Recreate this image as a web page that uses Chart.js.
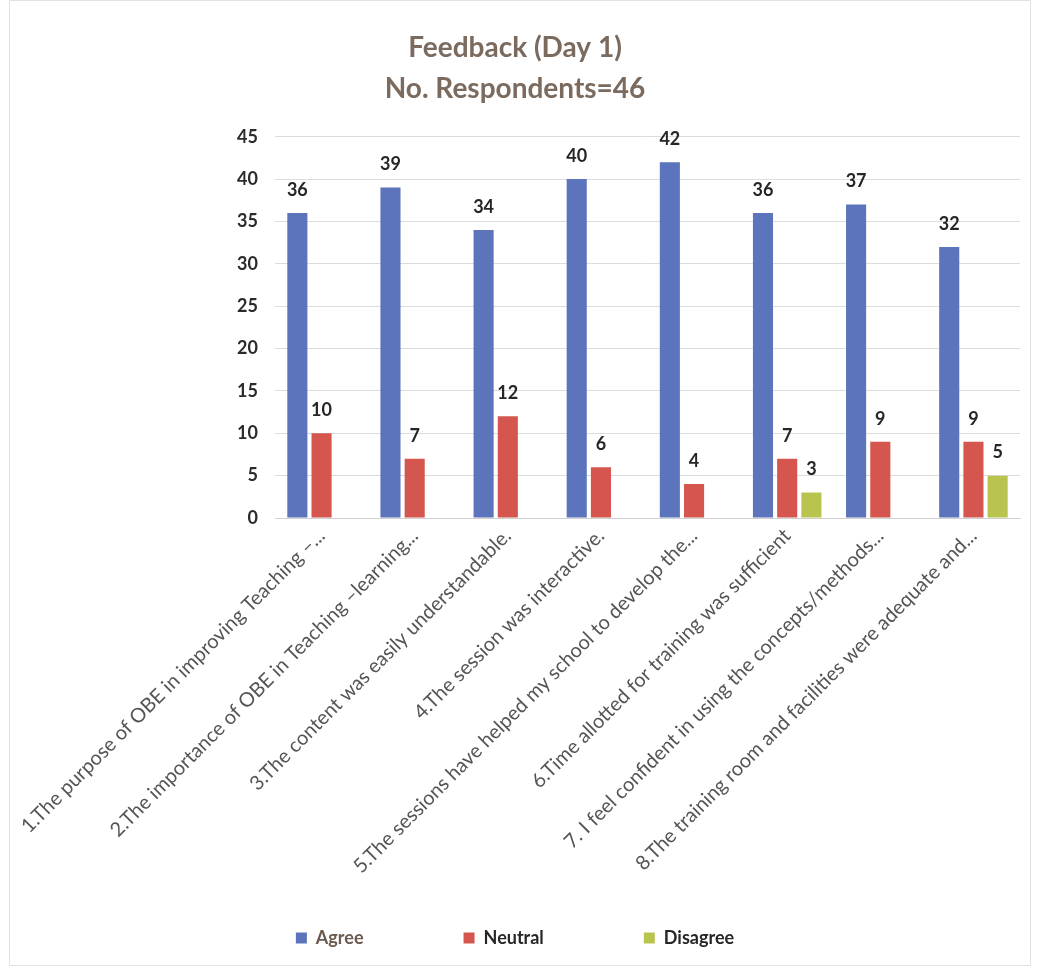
<!DOCTYPE html>
<html>
<head>
<meta charset="utf-8">
<script src="https://cdn.jsdelivr.net/npm/chart.js@4.4.0/dist/chart.umd.min.js"></script>
<style>
  html, body { margin: 0; padding: 0; background: #ffffff; overflow: hidden; }
  canvas { display: block; }
</style>
</head>
<body>
<canvas id="c" width="1040" height="971"></canvas>
<script>
const categories = [
  "1.The purpose of OBE in improving Teaching \u2013...",
  "2.The importance of OBE in Teaching \u2013learning...",
  "3.The content was easily understandable.",
  "4.The session was interactive.",
  "5.The sessions have helped my school to develop the...",
  "6.Time allotted for training was sufficient",
  "7. I feel confident in using the concepts/methods...",
  "8.The training room and facilities were adequate and..."
];
const agree    = [36, 39, 34, 40, 42, 36, 37, 32];
const neutral  = [10, 7, 12, 6, 4, 7, 9, 9];
const disagree = [null, null, null, null, null, 3, null, 5];
const yTicks = [0, 5, 10, 15, 20, 25, 30, 35, 40, 45];
const titleLines = ["Feedback (Day 1)", "No. Respondents=46"];

const frame = {
  id: 'frame',
  beforeDraw(chart) {
    const ctx = chart.ctx;
    ctx.save();
    ctx.fillStyle = '#ffffff';
    ctx.fillRect(0, 0, chart.width, chart.height);
    ctx.strokeStyle = '#e2e2e2';
    ctx.lineWidth = 1;
    ctx.strokeRect(9.5, 0.5, chart.width - 19, chart.height - 6);
    ctx.restore();
  }
};

const valueLabels = {
  id: 'valueLabels',
  afterDatasetsDraw(chart) {
    const ctx = chart.ctx;
    ctx.save();
    ctx.font = 'bold 18px Lato, "Open Sans", sans-serif';
    ctx.fillStyle = '#262626';
    ctx.textAlign = 'center';
    ctx.textBaseline = 'bottom';
    chart.data.datasets.forEach((ds, i) => {
      const meta = chart.getDatasetMeta(i);
      meta.data.forEach((el, j) => {
        const v = ds.data[j];
        if (v === null || v === undefined) return;
        ctx.fillText(String(v), el.x, el.y - 14);
      });
    });
    ctx.restore();
  }
};

new Chart(document.getElementById('c'), {
  type: 'bar',
  data: {
    labels: categories,
    datasets: [
      { label: 'Agree', data: agree, backgroundColor: '#5b74bb' },
      { label: 'Neutral', data: neutral, backgroundColor: '#d4564f' },
      { label: 'Disagree', data: disagree, backgroundColor: '#b9c44f' }
    ]
  },
  options: {
    responsive: false,
    animation: false,
    devicePixelRatio: 1,
    layout: { padding: { left: 10, right: 20, top: 28, bottom: 14 } },
    datasets: { bar: { barPercentage: 0.83, categoryPercentage: 0.78 } },
    plugins: {
      title: {
        display: true,
        text: titleLines,
        color: '#7b6a5e',
        font: { family: 'Lato, "Open Sans", sans-serif', size: 28, weight: 'bold', lineHeight: 1.46 },
        padding: { top: 0, bottom: 27 }
      },
      legend: {
        position: 'bottom',
        labels: {
          boxWidth: 11, boxHeight: 11,
          padding: 100,
          color: '#333',
          font: { family: 'Lato, "Open Sans", sans-serif', size: 18, weight: 'bold' },
          generateLabels(chart) {
            const items = Chart.defaults.plugins.legend.labels.generateLabels(chart);
            items.forEach((it, i) => { it.fontColor = i === 0 ? '#6b5a4f' : '#262626'; it.lineWidth = 0; });
            return items;
          }
        }
      },
      tooltip: { enabled: false }
    },
    scales: {
      x: {
        grid: { display: false, drawTicks: false },
        border: { display: true, color: '#d0d0d0' },
        afterFit(scale) {
          scale.height = 311;
          scale._computeLabelArea = () => undefined;
        },
        ticks: {
          autoSkip: false,
          maxRotation: 45, minRotation: 45,
          color: '#555',
          padding: 6,
          font: { family: 'Lato, "Open Sans", sans-serif', size: 20 }
        }
      },
      y: {
        min: 0, max: 45,
        afterBuildTicks(scale) { scale.ticks = yTicks.map(v => ({ value: v })); },
        afterFit(scale) { scale.width = 265; },
        grid: { color: '#dcdcdc', drawTicks: false },
        border: { display: false },
        ticks: {
          color: '#2b2b2b',
          padding: 17,
          font: { family: 'Lato, "Open Sans", sans-serif', size: 18, weight: 'bold' }
        }
      }
    }
  },
  plugins: [frame, valueLabels]
});
</script>
</body>
</html>
